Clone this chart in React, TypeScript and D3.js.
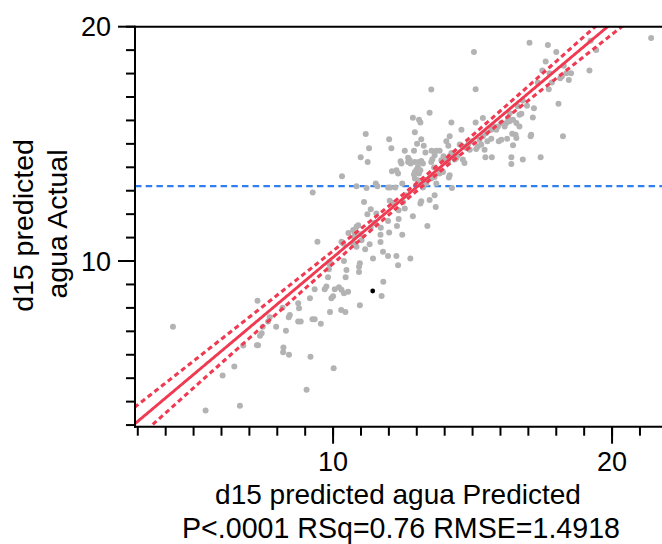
import React from "react";
import * as d3 from "d3";

// Predicted (x) and Actual (y) values
const predicted: number[] = [
  4.26, 5.43, 6.66, 6.04, 6.46, 6.78, 7.27, 7.31, 7.29, 7.38, 7.44, 7.48, 7.67, 7.73, 7.96, 8.19, 8.22, 8.21, 8.42, 8.31,
  8.45, 8.41, 8.75, 8.78, 8.75, 8.84, 9.05, 9.19, 9.17, 9.26, 9.34, 9.34, 9.56, 9.44, 9.27, 9.70, 9.76, 9.82, 9.85, 9.88,
  9.86, 9.89, 9.94, 10.0, 10.02, 10.06, 10.21, 10.30, 10.39, 10.54, 10.29, 10.44, 10.96, 11.74, 11.80, 10.45, 10.48, 10.39, 10.93, 10.93,
  10.96, 11.43, 11.15, 11.31, 11.70, 11.79, 11.97, 12.27, 12.33, 12.77, 10.30, 10.36, 10.72, 10.78, 10.84, 11.02, 10.72, 10.78, 10.75, 10.84,
  10.90, 10.99, 11.35, 11.49, 11.70, 11.71, 12.01, 12.48, 12.29, 12.35, 11.97, 12.86, 13.38, 11.11, 11.35, 11.23, 11.55, 12.03, 12.13, 12.51,
  12.57, 12.35, 13.13, 13.16, 13.46, 13.68, 12.60, 13.64, 13.52, 13.46, 12.86, 13.08, 13.13, 14.24, 12.93, 11.17, 12.01, 13.16, 13.01, 14.18,
  14.06, 14.13, 11.29, 12.09, 12.57, 12.90, 13.25, 13.31, 13.53, 13.70, 13.82, 13.64, 13.56, 13.96, 14.01, 13.88, 14.12, 14.30, 14.39, 14.44,
  10.99, 11.24, 12.42, 12.45, 12.69, 12.75, 12.69, 12.78, 12.93, 13.07, 13.16, 13.22, 13.04, 12.99, 12.93, 12.90, 13.13, 13.08, 13.52, 13.62,
  13.76, 13.82, 13.94, 14.18, 14.15, 12.11, 12.27, 12.33, 10.32, 10.84, 11.20, 11.53, 11.59, 11.97, 12.05, 12.23, 12.48, 12.93, 13.04, 13.25,
  13.22, 13.34, 13.52, 13.64, 13.70, 14.26, 21.40, 17.04, 17.70, 15.05, 18.00, 19.23, 19.43, 17.62, 18.27, 17.50, 19.19, 17.76, 18.36, 18.53,
  18.14, 18.20, 18.45, 17.34, 17.84, 17.73, 15.11, 18.08, 18.24, 16.80, 16.95, 17.20, 17.16, 17.10, 17.08, 17.44, 16.80, 16.39, 16.39, 16.45,
  16.57, 16.42, 16.54, 16.24, 16.03, 15.94, 15.67, 15.37, 15.11, 14.60, 16.62, 16.68, 16.75, 16.33, 16.27, 16.21, 16.15, 16.33, 16.45, 16.57,
  16.68, 16.03, 15.91, 15.85, 15.73, 15.67, 15.53, 15.43, 15.46, 15.69, 15.31, 15.19, 15.13, 15.25, 15.37, 15.49, 14.96, 14.84, 14.78, 14.90,
  14.65, 14.54, 14.71, 14.65, 14.42, 14.36, 14.24, 14.18, 10.55
];
const actual: number[] = [
  7.20, 3.62, 3.82, 5.11, 5.50, 6.40, 6.41, 6.41, 8.31, 6.81, 6.92, 7.20, 7.42, 7.60, 7.20, 8.01, 6.31, 6.11, 6.00, 7.02,
  7.70, 7.60, 8.20, 7.99, 7.42, 7.42, 4.51, 5.91, 8.41, 7.52, 7.52, 8.80, 7.32, 10.82, 12.92, 8.80, 8.91, 9.31, 9.65, 9.97,
  9.88, 7.82, 8.41, 8.50, 5.42, 8.80, 8.88, 8.77, 8.63, 8.69, 7.91, 7.82, 8.11, 8.51, 9.12, 9.31, 9.62, 10.0, 9.53, 9.76,
  9.90, 10.11, 10.50, 10.72, 10.81, 10.40, 10.21, 10.21, 9.82, 10.11, 10.82, 10.75, 10.68, 10.75, 10.61, 10.89, 11.32, 11.18, 11.03, 11.46,
  11.53, 11.14, 11.43, 11.63, 11.12, 11.42, 11.22, 11.12, 11.50, 11.79, 11.71, 11.91, 11.50, 12.52, 12.21, 12.00, 12.03, 12.57, 12.48, 12.52,
  12.24, 12.17, 12.45, 12.55, 12.60, 12.31, 12.81, 12.81, 17.32, 16.33, 16.11, 16.03, 15.91, 15.91, 15.50, 15.42, 15.20, 15.20, 15.01, 15.32,
  15.11, 14.92, 14.81, 14.81, 14.71, 14.71, 14.92, 14.63, 14.71, 14.71, 14.71, 14.51, 14.34, 14.47, 14.35, 14.30, 14.20, 14.51, 14.41, 14.47,
  14.43, 14.23, 14.26, 14.16, 14.41, 14.30, 14.23, 14.16, 14.23, 14.23, 14.27, 14.16, 14.01, 13.90, 13.80, 13.69, 13.87, 13.73, 14.23, 13.99,
  13.90, 13.73, 13.80, 13.66, 13.56, 13.83, 13.87, 13.73, 13.62, 13.19, 13.12, 13.31, 13.19, 13.14, 13.14, 13.14, 13.31, 13.52, 13.45, 13.48,
  13.14, 13.31, 13.52, 13.59, 13.31, 13.12, 19.52, 19.32, 19.22, 18.92, 18.92, 19.40, 19.01, 18.51, 18.33, 18.13, 18.13, 18.01, 18.01, 18.01,
  17.80, 17.87, 17.73, 17.62, 17.62, 17.33, 17.33, 16.71, 15.32, 16.85, 16.63, 16.52, 16.13, 15.39, 15.32, 14.43, 14.33, 14.43, 14.14, 14.94,
  15.25, 15.43, 15.39, 15.22, 15.18, 15.11, 15.22, 16.10, 15.91, 15.60, 16.60, 16.24, 16.29, 16.31, 16.10, 15.89, 15.74, 15.96, 16.03, 15.89,
  15.74, 15.89, 15.74, 15.60, 15.74, 15.60, 15.11, 14.75, 14.43, 14.43, 14.97, 14.89, 14.78, 15.18, 15.32, 15.46, 15.11, 14.97, 14.82, 14.75,
  14.89, 14.97, 14.18, 14.33, 14.40, 14.33, 14.61, 14.47, 11.20
];
// Highlighted (black) row
const highlightPredicted = 11.42;
const highlightActual = 8.72;

// Fit summary
const fitIntercept = 0.16;
const fitSlope = 1;
const meanActual = 13.2;
const rmse = 1.4918;
const nObs = 300;
const sxx = 1920;
const tCrit = 1.968;

const xDomain: [number, number] = [2.9, 21.79];
const yDomain: [number, number] = [2.93, 20];
const xMajorTicks = [10, 20];
const yMajorTicks = [10, 20];
const xMinorTicks = d3.range(3, 22);
const yMinorTicks = d3.range(3, 21);

const xTitle = "d15 predicted agua Predicted";
const statsLine = "P<.0001 RSq=0.76 RMSE=1.4918";
const yTitleLines = ["d15 predicted", "agua Actual"];

const W = 662;
const H = 544;
const L = 135;
const R = 662;
const T = 26.7;
const B = 426.7;

const RED = "#f03a52";
const BLUE = "#2f80ee";
const FONT = "'Liberation Sans', Arial, Helvetica, sans-serif";

export default function App() {
  const x = d3.scaleLinear().domain(xDomain).range([L, R]);
  const y = d3.scaleLinear().domain(yDomain).range([B, T]);

  const grid = d3.range(xDomain[0] - 0.5, xDomain[1] + 0.5, 0.05);
  const fit = (v: number) => fitIntercept + fitSlope * v;
  const half = (v: number) =>
    tCrit * rmse * Math.sqrt(1 / nObs + ((v - meanActual) ** 2) / sxx);

  const line = d3
    .line<[number, number]>()
    .x((d) => x(d[0]))
    .y((d) => y(d[1]));

  const fitPath = line(grid.map((v) => [v, fit(v)]));
  const upperPath = line(grid.map((v) => [v, fit(v) + half(v)]));
  const lowerPath = line(grid.map((v) => [v, fit(v) - half(v)]));

  return (
    <svg
      width={W}
      height={H}
      style={{ position: "absolute", left: 0, top: 0, background: "#fff" }}
      fontFamily={FONT}
    >
      <defs>
        <clipPath id="plotClip">
          <rect x={L} y={T} width={R - L} height={B - T} />
        </clipPath>
      </defs>

      <g clipPath="url(#plotClip)">
        <line
          x1={L}
          x2={R}
          y1={y(meanActual)}
          y2={y(meanActual)}
          stroke={BLUE}
          strokeWidth={2.3}
          strokeDasharray="6.5 4.2"
        />
        {predicted.map((p, i) => (
          <circle key={i} cx={x(p)} cy={y(actual[i])} r={3} fill="#b3b3b3" />
        ))}
        <path d={fitPath || ""} fill="none" stroke={RED} strokeWidth={2.9} />
        <path d={upperPath || ""} fill="none" stroke={RED} strokeWidth={3.1} strokeDasharray="5 3.5" />
        <path d={lowerPath || ""} fill="none" stroke={RED} strokeWidth={3.1} strokeDasharray="5 3.5" />
        <circle cx={x(highlightPredicted)} cy={y(highlightActual)} r={2.4} fill="#000" />
      </g>

      {/* frame */}
      <line x1={L} x2={R} y1={T} y2={T} stroke="#000" strokeWidth={2} />
      <line x1={L} x2={L} y1={T - 1} y2={B + 1} stroke="#000" strokeWidth={2} />
      <line x1={L - 1} x2={R} y1={B} y2={B} stroke="#000" strokeWidth={2} />

      {/* x ticks */}
      {xMinorTicks.map((t) => (
        <line key={"xm" + t} x1={x(t)} x2={x(t)} y1={B} y2={B + 9} stroke="#000" strokeWidth={2} />
      ))}
      {xMajorTicks.map((t) => (
        <g key={"xM" + t}>
          <line x1={x(t)} x2={x(t)} y1={B} y2={B + 17} stroke="#000" strokeWidth={2} />
          <text x={x(t)} y={471} textAnchor="middle" fontSize={27} fill="#000">
            {t}
          </text>
        </g>
      ))}

      {/* y ticks */}
      {yMinorTicks.map((t) => (
        <line key={"ym" + t} x1={L - 9} x2={L} y1={y(t)} y2={y(t)} stroke="#000" strokeWidth={2} />
      ))}
      {yMajorTicks.map((t) => (
        <g key={"yM" + t}>
          <line x1={L - 17} x2={L} y1={y(t)} y2={y(t)} stroke="#000" strokeWidth={2} />
          <text x={111} y={y(t) + 9.5} textAnchor="end" fontSize={27} fill="#000">
            {t}
          </text>
        </g>
      ))}

      {/* titles */}
      <text x={398} y={504} textAnchor="middle" fontSize={28} fill="#000">
        {xTitle}
      </text>
      <text x={401} y={538} textAnchor="middle" fontSize={28.6} fill="#000">
        {statsLine}
      </text>
      <text transform="translate(33,225.5) rotate(-90)" textAnchor="middle" fontSize={28.5} fill="#000">
        {yTitleLines[0]}
      </text>
      <text transform="translate(67,224) rotate(-90)" textAnchor="middle" fontSize={28.5} fill="#000">
        {yTitleLines[1]}
      </text>
    </svg>
  );
}
